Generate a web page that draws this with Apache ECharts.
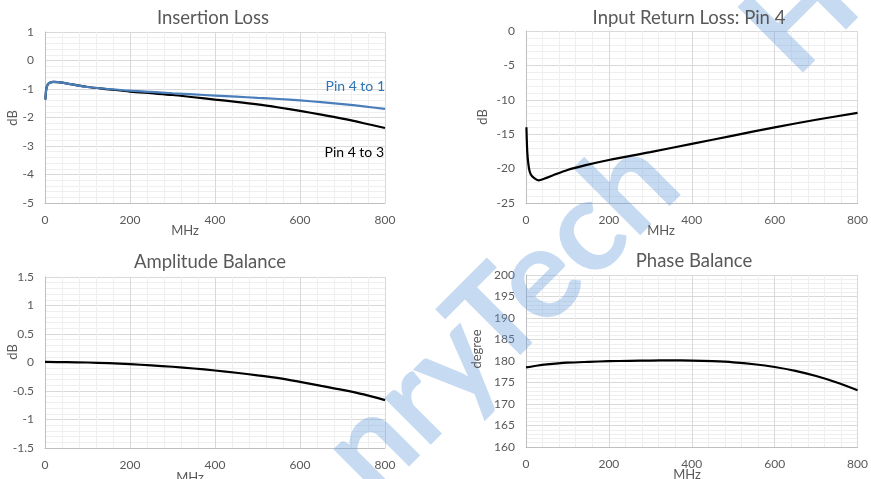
<!DOCTYPE html>
<html>
<head>
<meta charset="utf-8">
<script src="https://cdn.jsdelivr.net/npm/echarts@6/dist/echarts.min.js"></script>
<style>
html,body{margin:0;padding:0;background:#fff;}
#c{width:871px;height:479px;}
</style>
</head>
<body>
<div id="c"></div>
<script>
// ---- data ----
const ilFreq   = [1, 3, 6, 10, 20, 30, 50, 75, 100, 150, 200, 250, 300, 350, 400, 450, 500, 550, 600, 650, 700, 750, 800];
const ilPin4to1 = [-1.37, -1.0, -0.86, -0.79, -0.75, -0.76, -0.80, -0.87, -0.93, -1.00, -1.06, -1.10, -1.15, -1.19, -1.23, -1.27, -1.31, -1.35, -1.40, -1.46, -1.53, -1.61, -1.70];
const ilPin4to3 = [-1.37, -1.0, -0.86, -0.79, -0.75, -0.76, -0.80, -0.87, -0.93, -1.01, -1.09, -1.15, -1.21, -1.29, -1.37, -1.45, -1.54, -1.65, -1.77, -1.90, -2.04, -2.20, -2.37];

const rlFreq = [1, 2, 3, 5, 8, 12, 20, 30, 45, 64, 100, 144, 200, 300, 400, 500, 600, 700, 800];
const rlPin4 = [-14.0, -16.0, -17.5, -19.0, -20.2, -20.9, -21.4, -21.7, -21.45, -21.0, -20.2, -19.5, -18.75, -17.6, -16.4, -15.2, -14.0, -12.9, -11.9];

const abFreq = [0, 50, 100, 150, 200, 250, 300, 350, 400, 450, 500, 550, 600, 650, 700, 750, 800];
const abVals = [0.01, 0.006, 0.0, -0.012, -0.03, -0.05, -0.075, -0.105, -0.14, -0.18, -0.225, -0.275, -0.34, -0.41, -0.48, -0.56, -0.66];

const pbFreq = [0, 25, 50, 100, 150, 200, 250, 300, 350, 400, 450, 500, 550, 600, 650, 700, 750, 800];
const pbVals = [178.5, 178.9, 179.2, 179.6, 179.8, 179.95, 180.05, 180.1, 180.15, 180.1, 179.95, 179.7, 179.25, 178.6, 177.7, 176.5, 175.0, 173.2];

const xTicks = [0, 200, 400, 600, 800];
const titles = ['Insertion Loss', 'Input Return Loss: Pin 4', 'Amplitude Balance', 'Phase Balance'];
const watermarkText = 'nryTech     H';

function pairs(xs, ys){ return xs.map((x,i)=>[x, ys[i]]); }

const FONT = 'Lato';
const GREY = '#595959';

const grids = [
  {left: 45,  top: 32,  width: 340, height: 171},
  {left: 526, top: 31,  width: 338, height: 172},
  {left: 45,  top: 277, width: 340, height: 171},
  {left: 526, top: 275, width: 337, height: 172}
];
const yCfg = [
  {min: -5, max: 1, interval: 1},
  {min: -25, max: 0, interval: 5},
  {min: -1.5, max: 1.5, interval: 0.5},
  {min: 160, max: 200, interval: 5}
];

function xAxis(i){
  return {
    gridIndex: i, type: 'value', min: xTicks[0], max: xTicks[xTicks.length-1], interval: 200,
    axisLine: {show: true, onZero: false, lineStyle: {color: '#bfbfbf', width: 1}},
    axisTick: {show: false},
    axisLabel: {color: GREY, fontFamily: FONT, fontSize: 12, margin: 11},
    splitLine: {show: true, lineStyle: {color: '#d9d9d9', width: 1}},
    minorTick: {show: false, splitNumber: 5},
    minorSplitLine: {show: true, lineStyle: {color: '#efefef', width: 1}}
  };
}
function yAxis(i){
  return Object.assign({
    gridIndex: i, type: 'value',
    axisLine: {show: true, lineStyle: {color: '#bfbfbf', width: 1}},
    axisTick: {show: false},
    axisLabel: {color: GREY, fontFamily: FONT, fontSize: 12, margin: 11},
    splitLine: {show: true, lineStyle: {color: '#d9d9d9', width: 1}},
    minorTick: {show: false, splitNumber: 5},
    minorSplitLine: {show: true, lineStyle: {color: '#efefef', width: 1}}
  }, yCfg[i]);
}

function line(i, data, color, name){
  return {
    name: name, type: 'line', xAxisIndex: i, yAxisIndex: i, data: data,
    showSymbol: false, smooth: 0.3, clip: true,
    lineStyle: {color: color, width: 2.2}, z: 3
  };
}

function txt(x, y, text, opts){
  return {
    type: 'text', x: x, y: y, z: 10, silent: true,
    rotation: (opts && opts.rot) || 0,
    style: Object.assign({
      text: text, fill: GREY, font: '13px ' + FONT,
      textAlign: 'center', textVerticalAlign: 'middle'
    }, (opts && opts.style) || {})
  };
}

const titleCenters = [[213, 18], [689, 18], [210, 262], [694, 261]];

const chart = echarts.init(document.getElementById('c'), null, {renderer: 'canvas'});
chart.setOption({
  animation: false,
  backgroundColor: '#ffffff',
  grid: grids,
  xAxis: [0,1,2,3].map(xAxis),
  yAxis: [0,1,2,3].map(yAxis),
  series: [
    line(0, pairs(ilFreq, ilPin4to3), '#000000', 'Pin 4 to 3'),
    line(0, pairs(ilFreq, ilPin4to1), '#4a7ebb', 'Pin 4 to 1'),
    line(1, pairs(rlFreq, rlPin4), '#000000', 'Pin 4'),
    line(2, pairs(abFreq, abVals), '#000000', 'Amplitude'),
    line(3, pairs(pbFreq, pbVals), '#000000', 'Phase')
  ],
  graphic: [
    // watermark (translucent, over the grid, under the curves)
    {
      type: 'text', x: 345, y: 472, rotation: Math.PI/4, z: 1, silent: true,
      style: {text: watermarkText, font: 'bold 128px ' + FONT, fill: 'rgba(96,152,218,0.36)',
              textAlign: 'left', textVerticalAlign: 'middle'}
    },
    // titles
    ...titles.map((t, i) => txt(titleCenters[i][0], titleCenters[i][1], t, {style: {font: '18.5px ' + FONT}})),
    // axis names
    txt(13, 118, 'dB', {rot: Math.PI/2}),
    txt(483, 117, 'dB', {rot: Math.PI/2}),
    txt(13, 352, 'dB', {rot: Math.PI/2}),
    txt(477, 349, 'degree', {rot: Math.PI/2}),
    txt(185, 231, 'MHz'),
    txt(661, 231, 'MHz'),
    txt(190, 478, 'MHz'),
    txt(687, 475, 'MHz'),
    // series labels
    txt(385, 86, 'Pin 4 to 1', {style: {fill: '#2e75b6', font: '14px ' + FONT, textAlign: 'right'}}),
    txt(384, 152, 'Pin 4 to 3', {style: {fill: '#000000', font: '14px ' + FONT, textAlign: 'right'}})
  ]
});
</script>
</body>
</html>
